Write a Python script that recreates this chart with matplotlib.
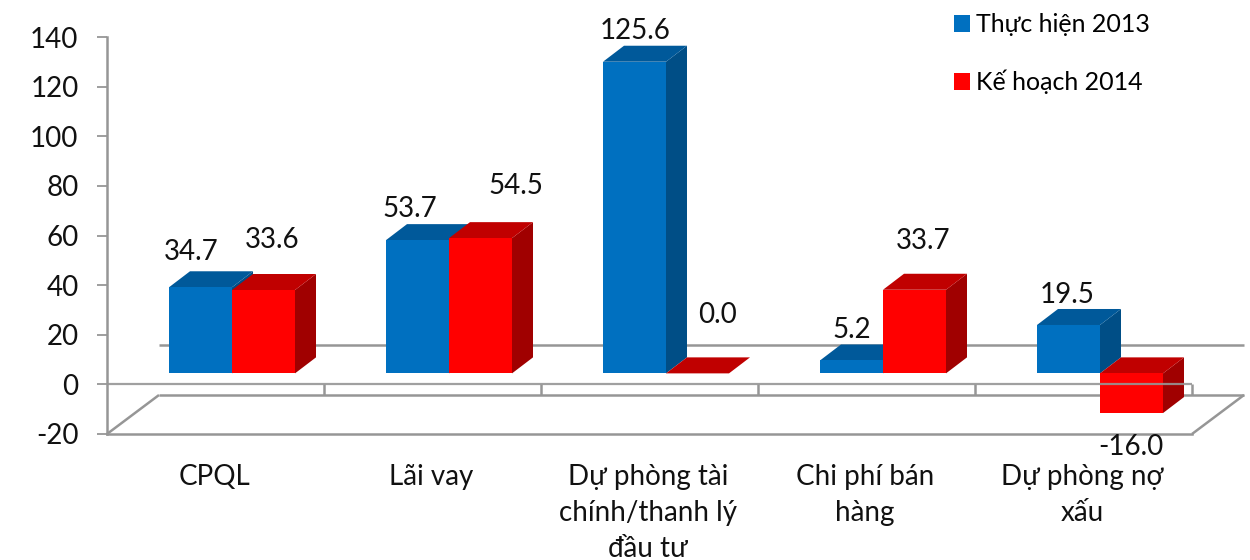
"""Chi phí theo khoản mục: 3D-style clustered bars drawn on a plain 2D axes."""

import matplotlib

matplotlib.use("Agg")
import matplotlib.pyplot as plt
import numpy as np
from matplotlib.patches import Patch

categories = [
    "CPQL",
    "Lãi vay",
    "Dự phòng tài\nchính/thanh lý\nđầu tư",
    "Chi phí bán\nhàng",
    "Dự phòng nợ\nxấu",
]
actual_2013 = [34.7, 53.7, 125.6, 5.2, 19.5]
plan_2014 = [33.6, 54.5, 0.0, 33.7, -16.0]
y_ticks = [-20, 0, 20, 40, 60, 80, 100, 120, 140]

# label nudges in pixels, measured from the front-top centre of each bar
actual_nudge = [(-9, 35), (-8, 31), (1, 31), (0, 30), (-1, 30)]
plan_nudge = [(9, 50), (35, 52), (20, 58), (9, 49), (-1, -34)]

# figure geometry in pixels
FIG_W, FIG_H = 1250, 560
AX_LEFT, AX_RIGHT, AX_TOP, AX_BOTTOM = 107, 1247, 37, 434
PX_X = 217.0
PX_Y = (AX_BOTTOM - AX_TOP) / 160.0

BAR_W = 63 / PX_X
BAR_DX = 21 / PX_X
BAR_DY = 16 / PX_Y
BAR_SHIFT_X = 16.5 / PX_X
BAR_SHIFT_Y = 11 / PX_Y
FLOOR_DX = 52 / PX_X
FLOOR_DY = 39 / PX_Y

GRAY = "#969696"
BLUE = ("#0070C0", "#00599A", "#004E86")
RED = ("#FF0000", "#C00000", "#A00000")

plt.rcParams["font.family"] = ["Lato", "Noto Sans", "DejaVu Sans"]
plt.rcParams["axes.unicode_minus"] = False
FONT_SIZE = 20


def draw_bar(ax, left, value, colors):
    """Draw front, top and side faces of one pseudo-3D bar."""
    front, top, side = colors
    right = left + BAR_W
    high = max(value, 0) + BAR_SHIFT_Y
    low = min(value, 0) + BAR_SHIFT_Y
    ax.fill(
        [right, right + BAR_DX, right + BAR_DX, right],
        [low, low + BAR_DY, high + BAR_DY, high],
        color=side, lw=0, zorder=3, clip_on=False,
    )
    ax.fill(
        [left, right, right + BAR_DX, left + BAR_DX],
        [high, high, high + BAR_DY, high + BAR_DY],
        color=top, lw=0, zorder=3, clip_on=False,
    )
    if high > low:
        ax.fill(
            [left, right, right, left],
            [low, low, high, high],
            color=front, lw=0, zorder=3, clip_on=False,
        )


fig = plt.figure(figsize=(FIG_W / 100, FIG_H / 100), dpi=100)
ax = fig.add_axes([
    AX_LEFT / FIG_W,
    1 - AX_BOTTOM / FIG_H,
    (AX_RIGHT - AX_LEFT) / FIG_W,
    (AX_BOTTOM - AX_TOP) / FIG_H,
])
n = len(categories)
ax.set_xlim(0, (AX_RIGHT - AX_LEFT) / PX_X)
ax.set_ylim(-20, 140)
ax.patch.set_visible(False)

for name in ("top", "right"):
    ax.spines[name].set_visible(False)
for name in ("left", "bottom"):
    ax.spines[name].set_color(GRAY)
    ax.spines[name].set_linewidth(1.8)
ax.spines["bottom"].set_bounds(0, n)

ax.set_yticks(y_ticks)
ax.set_xticks([])
ax.set_xticks(np.arange(n) + 0.5 - 1.5 / PX_X, categories, minor=True, ha="center")
ax.tick_params(axis="y", length=7, width=1.3, color=GRAY, labelsize=FONT_SIZE, pad=13.5)
ax.tick_params(axis="x", which="minor", length=0, labelsize=FONT_SIZE, pad=21.5)
for lab in ax.get_xticklabels(minor=True):
    lab.set_linespacing(1.48)
    lab.set_verticalalignment("top")

# wall and floor outline
line = dict(color=GRAY, lw=1.8, clip_on=False, solid_capstyle="butt")
ax.plot([FLOOR_DX, n + FLOOR_DX], [FLOOR_DY, FLOOR_DY], zorder=1, **line)
ax.plot([FLOOR_DX, n + FLOOR_DX], [FLOOR_DY - 20, FLOOR_DY - 20], zorder=1, **line)
ax.plot([0, FLOOR_DX], [-20, FLOOR_DY - 20], zorder=1, **line)
ax.plot([n, n + FLOOR_DX], [-20, FLOOR_DY - 20], zorder=1, **line)
for i in range(1, n + 1):
    ax.plot([i, i], [0, FLOOR_DY - 20], zorder=1, **line)

for i in range(n):
    split = i + 0.5 + BAR_SHIFT_X
    draw_bar(ax, split - BAR_W, actual_2013[i], BLUE)
    draw_bar(ax, split, plan_2014[i], RED)
    for left, value, nudge in (
        (split - BAR_W, actual_2013[i], actual_nudge[i]),
        (split, plan_2014[i], plan_nudge[i]),
    ):
        ax.annotate(
            f"{value:.1f}",
            xy=(left + BAR_W / 2, value + BAR_SHIFT_Y),
            xytext=nudge, textcoords="offset pixels",
            ha="center", va="center", fontsize=FONT_SIZE, color="#111111",
            annotation_clip=False, zorder=6,
        )

# the front zero line runs over the negative bar
ax.plot([0, n], [0, 0], zorder=4, color=GRAY, lw=1.6, alpha=0.9, solid_capstyle="butt")

handles = [Patch(color=BLUE[0], lw=0), Patch(color=RED[0], lw=0)]
fig.legend(
    handles, ["Thực hiện 2013", "Kế hoạch 2014"],
    loc="upper left", bbox_to_anchor=(931.5 / FIG_W, 1 + 9 / FIG_H),
    frameon=False, fontsize=18, handlelength=0.64, handleheight=0.64,
    handletextpad=0.22, labelspacing=1.34, borderpad=0.4,
)

for lab in ax.get_xticklabels(minor=True) + ax.get_yticklabels():
    lab.set_color("#111111")

fig.savefig("out.png", dpi=100)
plt.close(fig)
